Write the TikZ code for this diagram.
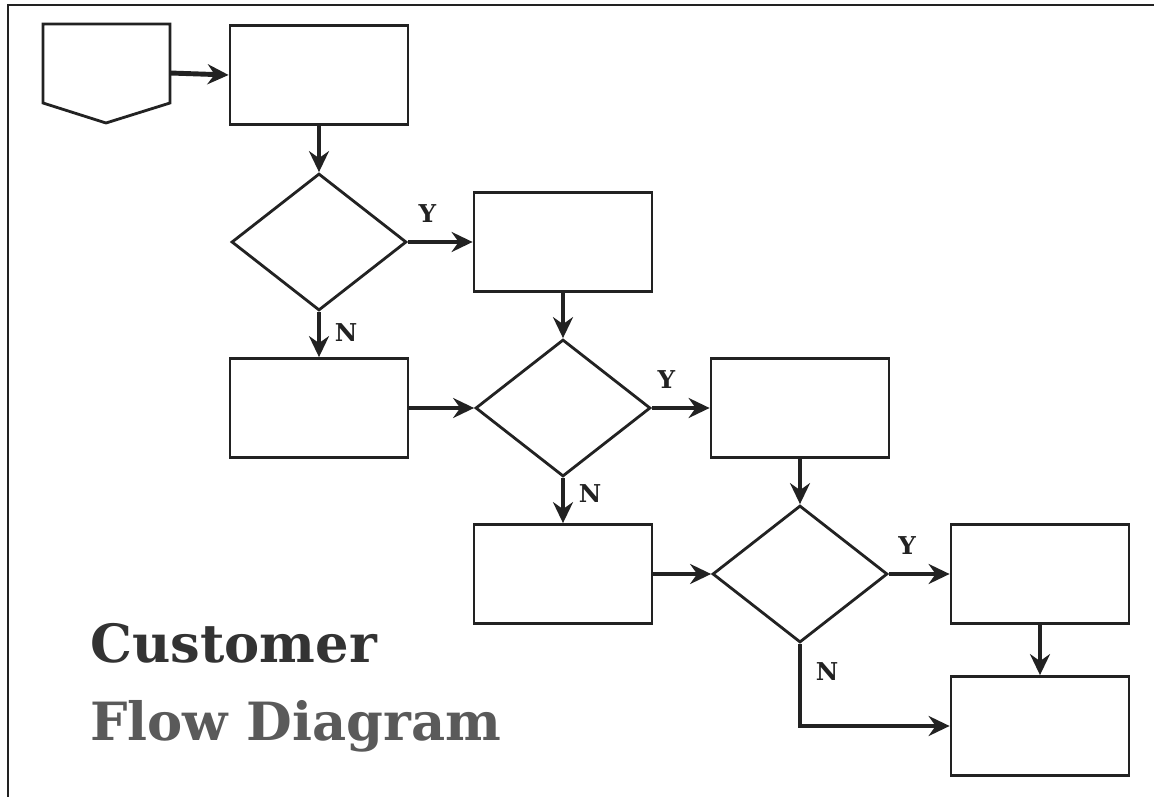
\documentclass[tikz,border=0pt]{standalone}
\usepackage{xcolor}
\usepackage{fontspec}
\setmainfont{DejaVu Serif}
\usepackage{tikz}
\usetikzlibrary{shapes,arrows.meta,positioning}

\definecolor{ink}{HTML}{222222}
\definecolor{titledark}{HTML}{333333}
\definecolor{titlegray}{HTML}{5A5A5A}

\begin{document}
\begin{tikzpicture}[x=0.02cm, y=-0.02cm,
    stepbox/.style={draw=ink, line width=1.6pt, fill=white, minimum width=3.56cm, minimum height=1.98cm},
    choice/.style={draw=ink, diamond, line width=1.6pt, fill=white, minimum width=3.5cm, minimum height=2.74cm, inner sep=0pt},
    flow/.style={draw=ink, line width=2.8pt, -{Stealth[length=0.42cm, width=0.4cm, inset=0.14cm]}},
    lbl/.style={font=\bfseries\fontsize{14}{16}\selectfont, text=ink, inner sep=2pt}]
    \useasboundingbox (0,0) rectangle (1154,797);
    % frame
    \draw[ink, line width=1.6pt] (8,797) -- (8,5) -- (1154,5);
    % off-page start
    \draw[ink, line width=1.6pt, fill=white] (43,24) -- (170,24) -- (170,103) -- (106,123) -- (43,103) -- cycle;
    \coordinate (start) at (170,73);
    % steps and decisions
    \node[stepbox] (box1) at (319,75) {};
    \node[choice] (d1) at (319,242) {};
    \node[stepbox] (box2) at (563,242) {};
    \node[stepbox] (box3) at (319,408) {};
    \node[choice] (d2) at (563,408) {};
    \node[stepbox] (box4) at (800,408) {};
    \node[stepbox] (box5) at (563,574) {};
    \node[choice] (d3) at (800,574) {};
    \node[stepbox] (box6) at (1040,574) {};
    \node[stepbox] (box7) at (1040,726) {};
    % connectors
    \draw[flow] (start) -- (box1.west);
    \draw[flow] (box1.south) -- (d1.north);
    \draw[flow] (d1.east) -- node[lbl, above=0.28cm, pos=0.3] (y1) {Y} (box2.west);
    \draw[flow] (d1.south) -- node[lbl, right=0.2cm, pos=0.45] (n1) {N} (box3.north);
    \draw[flow] (box2.south) -- (d2.north);
    \draw[flow] (box3.east) -- (d2.west);
    \draw[flow] (d2.east) -- node[lbl, above=0.28cm, pos=0.25] (y2) {Y} (box4.west);
    \draw[flow] (d2.south) -- node[lbl, right=0.2cm, pos=0.35] (n2) {N} (box5.north);
    \draw[flow] (box4.south) -- (d3.north);
    \draw[flow] (box5.east) -- (d3.west);
    \draw[flow] (d3.east) -- node[lbl, above=0.28cm, pos=0.3] (y3) {Y} (box6.west);
    \draw[flow] (box6.south) -- (box7.north);
    \draw[flow] (d3.south) |- node[lbl, right=0.2cm, pos=0.17] (n3) {N} (box7.west);
    % title
    \node[anchor=base west, inner sep=0pt, text=titledark, font=\bfseries\fontsize{30}{36}\selectfont] (title1) at (90,662) {Customer};
    \node[anchor=base west, inner sep=0pt, text=titlegray, font=\bfseries\fontsize{30}{36}\selectfont] (title2) at (90,740) {Flow Diagram};
\end{tikzpicture}
\end{document}
